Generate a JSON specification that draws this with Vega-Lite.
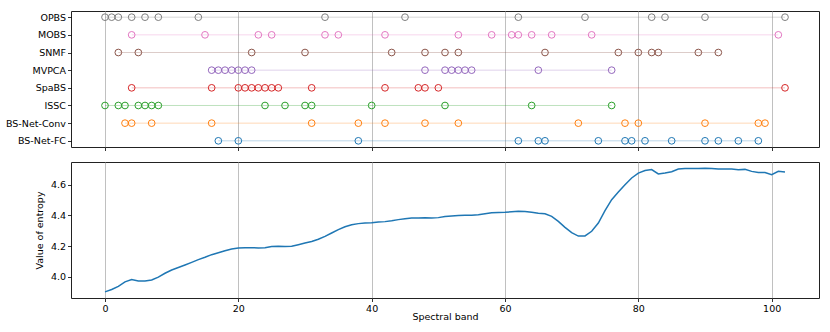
{
  "$schema": "https://vega.github.io/schema/vega-lite/v6.json",
  "padding": {"left": 4, "top": 10, "right": 9, "bottom": 4},
  "spacing": 9,
  "config": {
    "view": {"stroke": "#222222", "strokeWidth": 1},
    "font": "DejaVu Sans",
    "axis": {
      "domain": false,
      "labelFont": "DejaVu Sans",
      "labelFontSize": 9.5,
      "labelColor": "#000000",
      "titleFont": "DejaVu Sans",
      "titleFontSize": 9.5,
      "titleFontWeight": "normal",
      "titleColor": "#000000",
      "tickColor": "#000000",
      "tickSize": 3.5,
      "tickWidth": 0.8,
      "labelPadding": 2,
      "gridColor": "#b0b0b0",
      "gridWidth": 0.8
    }
  },
  "datasets": {
    "sel": [
      {"method": "OPBS", "band": 0}, {"method": "OPBS", "band": 1}, {"method": "OPBS", "band": 2}, {"method": "OPBS", "band": 4}, {"method": "OPBS", "band": 6}, {"method": "OPBS", "band": 8}, {"method": "OPBS", "band": 14}, {"method": "OPBS", "band": 33}, {"method": "OPBS", "band": 45}, {"method": "OPBS", "band": 62}, {"method": "OPBS", "band": 72}, {"method": "OPBS", "band": 82}, {"method": "OPBS", "band": 84}, {"method": "OPBS", "band": 90}, {"method": "OPBS", "band": 102},
      {"method": "MOBS", "band": 4}, {"method": "MOBS", "band": 15}, {"method": "MOBS", "band": 23}, {"method": "MOBS", "band": 25}, {"method": "MOBS", "band": 33}, {"method": "MOBS", "band": 35}, {"method": "MOBS", "band": 42}, {"method": "MOBS", "band": 53}, {"method": "MOBS", "band": 58}, {"method": "MOBS", "band": 61}, {"method": "MOBS", "band": 62}, {"method": "MOBS", "band": 64}, {"method": "MOBS", "band": 67}, {"method": "MOBS", "band": 73}, {"method": "MOBS", "band": 101},
      {"method": "SNMF", "band": 2}, {"method": "SNMF", "band": 5}, {"method": "SNMF", "band": 22}, {"method": "SNMF", "band": 30}, {"method": "SNMF", "band": 43}, {"method": "SNMF", "band": 48}, {"method": "SNMF", "band": 51}, {"method": "SNMF", "band": 53}, {"method": "SNMF", "band": 66}, {"method": "SNMF", "band": 77}, {"method": "SNMF", "band": 80}, {"method": "SNMF", "band": 82}, {"method": "SNMF", "band": 83}, {"method": "SNMF", "band": 89}, {"method": "SNMF", "band": 92},
      {"method": "MVPCA", "band": 16}, {"method": "MVPCA", "band": 17}, {"method": "MVPCA", "band": 18}, {"method": "MVPCA", "band": 19}, {"method": "MVPCA", "band": 20}, {"method": "MVPCA", "band": 21}, {"method": "MVPCA", "band": 22}, {"method": "MVPCA", "band": 48}, {"method": "MVPCA", "band": 51}, {"method": "MVPCA", "band": 52}, {"method": "MVPCA", "band": 53}, {"method": "MVPCA", "band": 54}, {"method": "MVPCA", "band": 55}, {"method": "MVPCA", "band": 65}, {"method": "MVPCA", "band": 76},
      {"method": "SpaBS", "band": 4}, {"method": "SpaBS", "band": 16}, {"method": "SpaBS", "band": 20}, {"method": "SpaBS", "band": 21}, {"method": "SpaBS", "band": 22}, {"method": "SpaBS", "band": 23}, {"method": "SpaBS", "band": 24}, {"method": "SpaBS", "band": 25}, {"method": "SpaBS", "band": 26}, {"method": "SpaBS", "band": 31}, {"method": "SpaBS", "band": 42}, {"method": "SpaBS", "band": 47}, {"method": "SpaBS", "band": 48}, {"method": "SpaBS", "band": 50}, {"method": "SpaBS", "band": 102},
      {"method": "ISSC", "band": 0}, {"method": "ISSC", "band": 2}, {"method": "ISSC", "band": 3}, {"method": "ISSC", "band": 5}, {"method": "ISSC", "band": 6}, {"method": "ISSC", "band": 7}, {"method": "ISSC", "band": 8}, {"method": "ISSC", "band": 24}, {"method": "ISSC", "band": 27}, {"method": "ISSC", "band": 30}, {"method": "ISSC", "band": 31}, {"method": "ISSC", "band": 40}, {"method": "ISSC", "band": 51}, {"method": "ISSC", "band": 64}, {"method": "ISSC", "band": 76},
      {"method": "BS-Net-Conv", "band": 3}, {"method": "BS-Net-Conv", "band": 4}, {"method": "BS-Net-Conv", "band": 7}, {"method": "BS-Net-Conv", "band": 16}, {"method": "BS-Net-Conv", "band": 31}, {"method": "BS-Net-Conv", "band": 38}, {"method": "BS-Net-Conv", "band": 42}, {"method": "BS-Net-Conv", "band": 48}, {"method": "BS-Net-Conv", "band": 53}, {"method": "BS-Net-Conv", "band": 71}, {"method": "BS-Net-Conv", "band": 78}, {"method": "BS-Net-Conv", "band": 80}, {"method": "BS-Net-Conv", "band": 90}, {"method": "BS-Net-Conv", "band": 98}, {"method": "BS-Net-Conv", "band": 99},
      {"method": "BS-Net-FC", "band": 17}, {"method": "BS-Net-FC", "band": 20}, {"method": "BS-Net-FC", "band": 38}, {"method": "BS-Net-FC", "band": 62}, {"method": "BS-Net-FC", "band": 65}, {"method": "BS-Net-FC", "band": 66}, {"method": "BS-Net-FC", "band": 74}, {"method": "BS-Net-FC", "band": 78}, {"method": "BS-Net-FC", "band": 79}, {"method": "BS-Net-FC", "band": 81}, {"method": "BS-Net-FC", "band": 85}, {"method": "BS-Net-FC", "band": 90}, {"method": "BS-Net-FC", "band": 92}, {"method": "BS-Net-FC", "band": 95}, {"method": "BS-Net-FC", "band": 98}
    ],
    "entropy": [
      {"band": 0, "entropy": 3.903}, {"band": 1, "entropy": 3.918}, {"band": 2, "entropy": 3.939}, {"band": 3, "entropy": 3.968}, {"band": 4, "entropy": 3.983}, {"band": 5, "entropy": 3.974}, {"band": 6, "entropy": 3.974}, {"band": 7, "entropy": 3.98}, {"band": 8, "entropy": 3.999}, {"band": 9, "entropy": 4.024},
      {"band": 10, "entropy": 4.045}, {"band": 11, "entropy": 4.061}, {"band": 12, "entropy": 4.078}, {"band": 13, "entropy": 4.095}, {"band": 14, "entropy": 4.113}, {"band": 15, "entropy": 4.128}, {"band": 16, "entropy": 4.145}, {"band": 17, "entropy": 4.158}, {"band": 18, "entropy": 4.171}, {"band": 19, "entropy": 4.182},
      {"band": 20, "entropy": 4.188}, {"band": 21, "entropy": 4.19}, {"band": 22, "entropy": 4.19}, {"band": 23, "entropy": 4.189}, {"band": 24, "entropy": 4.19}, {"band": 25, "entropy": 4.198}, {"band": 26, "entropy": 4.199}, {"band": 27, "entropy": 4.198}, {"band": 28, "entropy": 4.2}, {"band": 29, "entropy": 4.21},
      {"band": 30, "entropy": 4.221}, {"band": 31, "entropy": 4.231}, {"band": 32, "entropy": 4.245}, {"band": 33, "entropy": 4.264}, {"band": 34, "entropy": 4.286}, {"band": 35, "entropy": 4.308}, {"band": 36, "entropy": 4.327}, {"band": 37, "entropy": 4.34}, {"band": 38, "entropy": 4.347}, {"band": 39, "entropy": 4.351},
      {"band": 40, "entropy": 4.353}, {"band": 41, "entropy": 4.357}, {"band": 42, "entropy": 4.36}, {"band": 43, "entropy": 4.366}, {"band": 44, "entropy": 4.373}, {"band": 45, "entropy": 4.379}, {"band": 46, "entropy": 4.383}, {"band": 47, "entropy": 4.384}, {"band": 48, "entropy": 4.385}, {"band": 49, "entropy": 4.383},
      {"band": 50, "entropy": 4.386}, {"band": 51, "entropy": 4.393}, {"band": 52, "entropy": 4.397}, {"band": 53, "entropy": 4.4}, {"band": 54, "entropy": 4.402}, {"band": 55, "entropy": 4.402}, {"band": 56, "entropy": 4.405}, {"band": 57, "entropy": 4.411}, {"band": 58, "entropy": 4.417}, {"band": 59, "entropy": 4.419},
      {"band": 60, "entropy": 4.421}, {"band": 61, "entropy": 4.424}, {"band": 62, "entropy": 4.427}, {"band": 63, "entropy": 4.426}, {"band": 64, "entropy": 4.421}, {"band": 65, "entropy": 4.415}, {"band": 66, "entropy": 4.411}, {"band": 67, "entropy": 4.394}, {"band": 68, "entropy": 4.362}, {"band": 69, "entropy": 4.323},
      {"band": 70, "entropy": 4.288}, {"band": 71, "entropy": 4.266}, {"band": 72, "entropy": 4.267}, {"band": 73, "entropy": 4.297}, {"band": 74, "entropy": 4.351}, {"band": 75, "entropy": 4.431}, {"band": 76, "entropy": 4.503}, {"band": 77, "entropy": 4.553}, {"band": 78, "entropy": 4.6}, {"band": 79, "entropy": 4.644},
      {"band": 80, "entropy": 4.676}, {"band": 81, "entropy": 4.693}, {"band": 82, "entropy": 4.699}, {"band": 83, "entropy": 4.67}, {"band": 84, "entropy": 4.676}, {"band": 85, "entropy": 4.685}, {"band": 86, "entropy": 4.702}, {"band": 87, "entropy": 4.705}, {"band": 88, "entropy": 4.705}, {"band": 89, "entropy": 4.706},
      {"band": 90, "entropy": 4.708}, {"band": 91, "entropy": 4.706}, {"band": 92, "entropy": 4.702}, {"band": 93, "entropy": 4.702}, {"band": 94, "entropy": 4.702}, {"band": 95, "entropy": 4.698}, {"band": 96, "entropy": 4.7}, {"band": 97, "entropy": 4.687}, {"band": 98, "entropy": 4.68}, {"band": 99, "entropy": 4.68},
      {"band": 100, "entropy": 4.665}, {"band": 101, "entropy": 4.687}, {"band": 102, "entropy": 4.683}
    ]
  },
  "vconcat": [
    {
      "width": 748,
      "height": 136,
      "data": {"name": "sel"},
      "encoding": {
        "x": {
          "field": "band", "type": "quantitative",
          "scale": {"domain": [-5.1, 107.1], "nice": false, "zero": false},
          "axis": {"values": [0, 20, 40, 60, 80, 100], "labels": false, "title": null, "grid": true}
        },
        "y": {
          "field": "method", "type": "nominal",
          "sort": ["OPBS", "MOBS", "SNMF", "MVPCA", "SpaBS", "ISSC", "BS-Net-Conv", "BS-Net-FC"],
          "scale": {"type": "point", "padding": 0.35},
          "axis": {"title": null, "grid": false, "labelPadding": 2}
        },
        "color": {
          "field": "method", "type": "nominal", "legend": null,
          "scale": {
            "domain": ["BS-Net-FC", "BS-Net-Conv", "ISSC", "SpaBS", "MVPCA", "SNMF", "MOBS", "OPBS"],
            "range": ["#1f77b4", "#ff7f0e", "#2ca02c", "#d62728", "#9467bd", "#8c564b", "#e377c2", "#7f7f7f"]
          }
        }
      },
      "layer": [
        {"mark": {"type": "line", "opacity": 0.3, "strokeWidth": 1}},
        {"mark": {"type": "point", "filled": false, "size": 45, "strokeWidth": 1, "opacity": 1}}
      ]
    },
    {
      "width": 748,
      "height": 136,
      "data": {"name": "entropy"},
      "mark": {"type": "line", "color": "#1f77b4", "strokeWidth": 1.5},
      "encoding": {
        "x": {
          "field": "band", "type": "quantitative",
          "scale": {"domain": [-5.1, 107.1], "nice": false, "zero": false},
          "axis": {"values": [0, 20, 40, 60, 80, 100], "title": "Spectral band", "grid": true, "titlePadding": -2}
        },
        "y": {
          "field": "entropy", "type": "quantitative",
          "scale": {"domain": [3.863, 4.748], "nice": false, "zero": false},
          "axis": {"values": [4.0, 4.2, 4.4, 4.6], "format": ".1f", "title": "Value of entropy", "grid": false, "titlePadding": 6}
        }
      }
    }
  ]
}
